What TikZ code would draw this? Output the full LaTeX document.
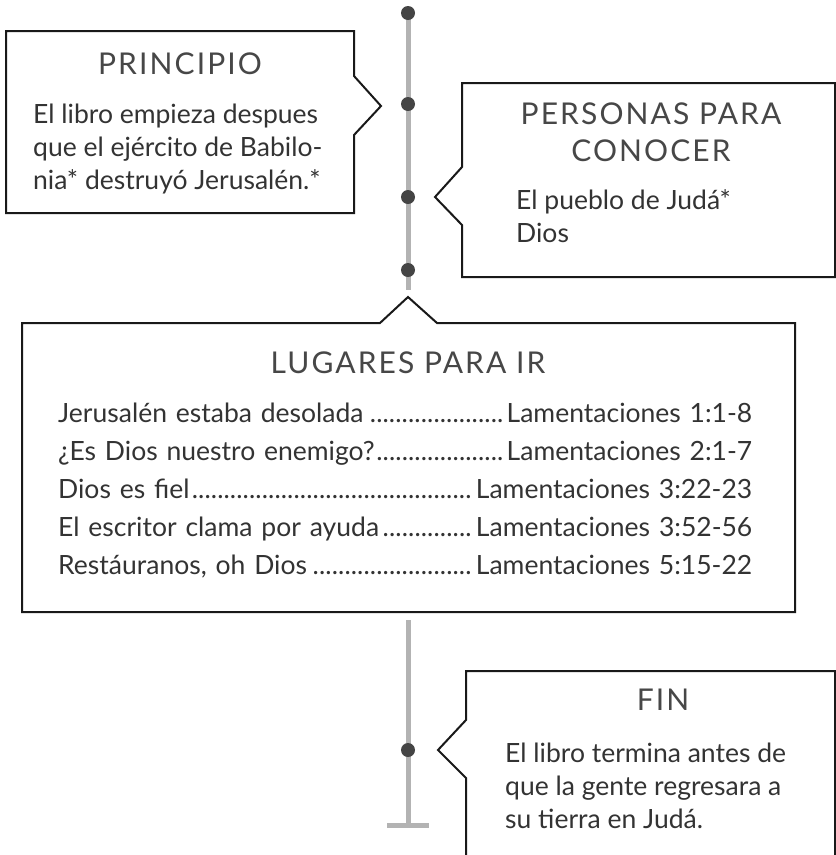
\documentclass[tikz,border=0pt]{standalone}
\usepackage{fontspec}
\setmainfont{Lato}
\newfontfamily\headfont[LetterSpace=7]{Lato}
\usetikzlibrary{calc}
\definecolor{rail}{HTML}{B3B3B3}
\definecolor{bead}{HTML}{444444}
\definecolor{ink}{HTML}{333333}
\newcommand{\leaderdots}{\leaders\hbox to 0.24em{\hss.\hss}\hfill}

\begin{document}
\begin{tikzpicture}[x=1pt,y=-1pt,
    box/.style={draw=black!90, line width=2pt, line join=miter, fill=white},
    heading/.style={font=\headfont\fontsize{30}{37}\selectfont, text=ink!90, align=center},
    body/.style={font=\fontsize{26.5}{33}\selectfont, text=ink, align=left, inner sep=0pt, anchor=west},
    entry/.style={font=\fontsize{26.5}{33}\selectfont, text=ink, text width=694pt, inner sep=0pt, anchor=base west}]
    \useasboundingbox (0,0) rectangle (836,855);

    % timeline
    \coordinate (top)    at (408,13);
    \coordinate (gap)    at (408,290);
    \coordinate (resume) at (408,620);
    \coordinate (foot)   at (408,825);
    \draw[rail, line width=5pt] (top) -- (gap) (resume) -- (foot);
    \draw[rail, line width=5pt] ($(foot)-(21,0)$) -- ($(foot)+(21,0)$);
    \foreach \y [count=\i] in {13,104,197,270,750} {
      \coordinate (d\i) at (408,\y);
      \fill[bead] (d\i) circle (7pt);
    }

    % callouts
    \draw[box] (6,31) -- (354,31) -- (354,76) -- (381,106) -- (354,135) -- (354,213) -- (6,213) -- cycle;
    \draw[box] (462,83) -- (835,83) -- (835,277) -- (462,277) -- (462,225) -- (435,197) -- (462,167) -- cycle;
    \draw[box] (22,323) -- (380,323) -- (408,297) -- (437,323) -- (795,323) -- (795,612) -- (22,612) -- cycle;
    \draw[box] (466,855) -- (466,778) -- (438,750) -- (466,720) -- (466,671) -- (835,671) -- (835,855);

    \node[heading] (principio) at (180,64) {PRINCIPIO};
    \node[body] (principio-txt) at (33,149) {El libro empieza despues\\que el ejército de Babilo-\\nia* destruyó Jerusalén.*};

    \node[heading] (personas) at (651,132) {PERSONAS PARA\\CONOCER};
    \node[body] (personas-txt) at (516,216) {El pueblo de Judá*\\Dios};

    \node[heading] (lugares) at (408,363) {LUGARES PARA IR};
    \foreach \y/\lugar/\cita [count=\i] in {
        422/Jerusalén estaba desolada/1:1-8,
        460/¿Es Dios nuestro enemigo?/2:1-7,
        498/Dios es fiel/3:22-23,
        536/El escritor clama por ayuda/3:52-56,
        574/{Restáuranos, oh Dios}/5:15-22} {
      \node[entry] (lugar\i) at (58,\y) {\lugar\leaderdots Lamentaciones \cita};
    }

    \node[heading] (fin) at (663,700) {FIN};
    \node[body] (fin-txt) at (505,786) {El libro termina antes de\\que la gente regresara a\\su tierra en Judá.};
\end{tikzpicture}
\end{document}
